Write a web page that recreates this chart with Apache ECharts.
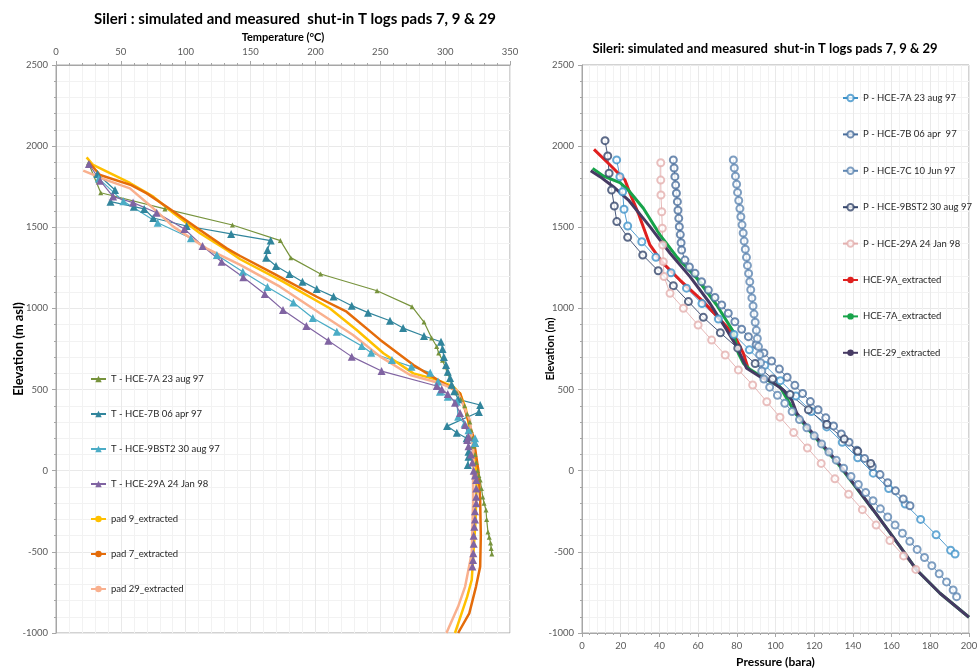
<!DOCTYPE html>
<html>
<head>
<meta charset="utf-8">
<script src="https://cdn.jsdelivr.net/npm/echarts@6/dist/echarts.min.js"></script>
<style>
html, body { margin: 0; padding: 0; background: #fff; }
#chart { width: 977px; height: 671px; }
</style>
</head>
<body>
<div id="chart"></div>
<script>
// temperature logs, [T degC, elevation m asl]
var tHce7A = [[25,1896],[34.5,1713],[84,1613],[136,1514],[173,1418],[181,1313],[204,1212],[247.5,1109],[274.5,1011],[283.7,916],[289.6,818],[293.5,765],[295,725],[298,680],[300,640],[302,600],[304,560],[306,520],[309,480],[312,440],[315,400],[317,350],[319,300],[320,250],[321,200],[322,150],[323,100],[324,50],[325,0],[326,-30],[327,-57],[328,-110],[329,-162],[330,-200],[331.5,-242],[332,-300],[333,-378],[334,-410],[335,-445],[335.5,-480],[336,-513]];
var tHce7B = [[32,1828],[45.5,1730],[42,1658],[60,1627],[68,1613],[75,1557],[100.7,1508],[135,1459],[165.5,1418],[163,1360],[162,1313],[169.6,1261],[180,1212],[190,1165],[201,1120],[214,1073],[228,1017],[240.6,974],[257.5,924],[267.6,879],[283.7,830],[296.8,795],[298,750],[299,700],[300.7,651],[302,610],[303.8,571],[305,530],[307,490],[310,440],[327,405],[326,362],[301.5,275],[309,234],[316.6,200],[323,171],[318,117],[318,86],[317.5,35]];
var tHce9BST2 = [[33,1800],[52,1660],[78.4,1528],[104,1432],[124,1329],[144,1226],[163,1132],[183,1036],[198,941],[216.5,857],[235.7,768],[243,727],[259,682],[274,641],[288.5,604],[294.5,549],[296,487],[302,456],[309,425],[310,333],[315,290],[318,250],[323,200],[323,171]];
var tHce29A = [[25.4,1890],[34,1787],[44,1689],[59.4,1652],[77.6,1590],[99,1490],[113,1385],[127.7,1288],[144.4,1192],[161,1089],[175,991],[193,892],[210,801],[228,703],[251,614],[293.5,522],[297.4,502],[302,473],[307.6,419],[311.5,356],[315.4,282],[318,210],[317,189],[318,150],[320,100],[321,50],[322,0],[323,-30],[324,-57],[324,-110],[324,-160],[324,-200],[323,-250],[323,-300],[322.5,-345],[322,-400],[322,-450],[321.7,-509],[321.5,-550],[321,-590]];
var pad9 = [[23.6,1931],[28.6,1884],[57,1773],[75,1689],[90.4,1588],[111,1463],[131.6,1360],[142,1303],[175,1165],[211,1001],[231.8,867],[252.4,724],[275.5,600],[292,565],[306.3,518],[311.5,477],[316,380],[319,251],[323,128],[324.3,-78],[323.5,-300],[320.5,-673],[317,-776],[307.6,-1000]];
var pad7 = [[25.5,1898],[34,1822],[58,1760],[70,1709],[85.3,1627],[111,1483],[131.6,1370],[142,1323],[167.5,1216],[201,1072],[224,980],[250,806],[275.6,651],[298.6,539],[311.5,477],[321.7,210],[325.6,4],[327,-176],[327.5,-400],[327,-591],[323.8,-714],[318.6,-879],[310,-1000]];
var pad29 = [[21,1849],[39,1791],[57,1740],[75,1617],[90.4,1504],[116,1370],[142,1268],[172.7,1134],[203.5,970],[229,836],[250,703],[273,590],[296,539],[309,497],[319,313],[321.7,128],[321.7,-176],[320.5,-509],[315.4,-714],[310,-837],[301,-1000]];

// pressure logs, [P bara, elevation m]
var pHce7A = [[17.9,1915],[19.6,1812],[21,1719],[21.7,1611],[23.6,1508],[30.9,1411],[38.2,1315],[46,1220],[54,1125],[62,1030],[70.5,935],[78.5,840],[86.5,745],[94.5,650],[102.5,555],[110.5,460],[118.5,365],[126.5,270],[134.5,175],[142.5,80],[150.5,-15],[158.5,-110],[167,-205],[175,-300],[183,-395],[190.5,-490],[192.8,-513]];
var pHce7B = [[47.2,1915],[47.6,1865],[48,1812],[48.4,1760],[48.8,1710],[49.3,1658],[49.6,1605],[50,1555],[50.3,1504],[50.8,1455],[51.2,1405],[51.5,1360],[53.2,1298],[55.5,1255],[58.4,1216],[61.8,1165],[65.3,1113],[68.7,1067],[72.2,1021],[75.6,970],[79,918],[82.5,872],[86,826],[90,776],[94,726],[98,676],[102,626],[106,576],[110,526],[114,476],[118,426],[122,376],[126,326],[130,276],[134,226],[138,176],[142,126],[146,76],[150,26],[154,-24],[158,-74],[162,-124],[166,-174],[169.5,-216]];
var pHce7C = [[78.2,1915],[78.7,1865],[79.3,1815],[79.9,1765],[80.4,1715],[81,1665],[81.6,1615],[82.1,1565],[82.7,1515],[83.3,1465],[83.8,1415],[84.4,1365],[85,1315],[85.5,1265],[86.1,1215],[86.7,1165],[87.2,1115],[87.8,1065],[88.4,1015],[88.9,965],[89.5,915],[90.1,865],[90.6,815],[91.2,765],[91.8,715],[92.3,665],[92.9,615],[94,565],[97,515],[101,465],[104.8,415],[108.6,365],[112.4,315],[116.2,265],[120,215],[123.8,165],[127.6,115],[131.4,65],[135.2,15],[139,-35],[142.8,-85],[146.6,-135],[150.4,-185],[154.2,-235],[158,-285],[161.8,-335],[165.6,-385],[169.4,-435],[173.2,-485],[177,-535],[180.8,-585],[184.6,-635],[188.4,-685],[191.8,-735],[193.6,-776]];
var pHce9BST2 = [[11.9,2034],[13.3,1939],[14,1833],[15.3,1730],[16.7,1631],[18,1535],[23.6,1438],[31.4,1329],[39.4,1232],[47.2,1140],[55,1042],[62.7,945],[71.5,850],[80.5,755],[89.5,660],[98.5,565],[107.5,470],[117,375],[126.5,285],[135.5,195],[142.5,120],[149.2,45]];
var pHce29A = [[40.7,1898],[40.7,1791],[40.8,1699],[41.2,1596],[41.5,1494],[41.7,1391],[42,1288],[42.4,1196],[45.5,1093],[52.4,1001],[60,898],[67,805],[74,713],[80.8,621],[88.2,528],[95.5,425],[102.3,330],[109.4,235],[116.5,140],[123.6,45],[130.7,-50],[137.8,-145],[144.9,-240],[152,-335],[159.1,-430],[166.2,-525],[172.5,-608]];
var hce9A = [[6.2,1980],[14.5,1884],[22.2,1791],[24.8,1709],[29.1,1586],[35.1,1391],[41.2,1288],[50.6,1175],[62.7,1042],[74.8,887],[80,805],[83.4,723],[86,625]];
var hce7A = [[5.5,1863],[11,1816],[19.6,1775],[23.9,1730],[31.7,1617],[40.3,1453],[48.9,1319],[59.3,1186],[69.6,1021],[78.2,857],[80.8,723],[83.4,662],[86.8,625],[95.5,559],[102.3,518],[105.3,456],[110.3,354],[117.2,251],[132.8,35],[150.5,-242],[164.4,-468],[173,-612],[185,-755],[200,-903]];
var hce29 = [[4.5,1849],[9.3,1812],[16.2,1750],[24,1668],[35.1,1504],[45.5,1340],[55.8,1196],[66.1,1032],[74.8,867],[80,764],[85.1,631],[92,579],[98,549],[104,497],[108.4,436],[111,354],[117.8,251],[133.3,35],[150.5,-242],[164.4,-468],[173,-612],[185,-755],[200,-903]];

var chart = echarts.init(document.getElementById('chart'));

var font = 'Lato';
function axisBase() {
    return {
        type: 'value',
        nameMoveOverlap: false,
        axisLine: { show: true, onZero: false, lineStyle: { color: '#a6a6a6' } },
        axisTick: { show: true, length: 4, lineStyle: { color: '#a6a6a6' } },
        minorTick: { show: true, splitNumber: 5, length: 2, lineStyle: { color: '#a6a6a6' } },
        axisLabel: { fontSize: 9.5, color: '#595959', fontFamily: font, formatter: function (v) { return String(v); } },
        splitLine: { show: true, lineStyle: { color: '#e9e9e9' } },
        minorSplitLine: { show: true, lineStyle: { color: '#f2f2f2' } },
        nameTextStyle: { fontWeight: 'bold', color: '#000', fontFamily: font }
    };
}

var xT = axisBase();
xT.gridIndex = 0; xT.position = 'top'; xT.min = 0; xT.max = 350; xT.interval = 50;
xT.name = 'Temperature (°C)'; xT.nameLocation = 'middle'; xT.nameGap = 22;
xT.nameTextStyle.fontSize = 11;

var yT = axisBase();
yT.gridIndex = 0; yT.min = -1000; yT.max = 2500; yT.interval = 500;
yT.name = 'Elevation (m asl)'; yT.nameLocation = 'middle'; yT.nameGap = 31;
yT.nameTextStyle.fontSize = 13;

var xP = axisBase();
xP.gridIndex = 1; xP.position = 'bottom'; xP.min = 0; xP.max = 200; xP.interval = 20;
xP.name = 'Pressure (bara)'; xP.nameLocation = 'middle'; xP.nameGap = 23;
xP.nameTextStyle.fontSize = 12;

var yP = axisBase();
yP.gridIndex = 1; yP.min = -1000; yP.max = 2500; yP.interval = 500;
yP.name = 'Elevation (m)'; yP.nameLocation = 'middle'; yP.nameGap = 26;
yP.nameTextStyle.fontSize = 11;

function tri(name, data, color, size) {
    return {
        name: name, type: 'line', xAxisIndex: 0, yAxisIndex: 0, data: data,
        symbol: 'triangle', symbolSize: size, color: color,
        lineStyle: { width: 1.2, color: color }, itemStyle: { color: color }
    };
}
function circ(name, data, color) {
    return {
        name: name, type: 'line', xAxisIndex: 1, yAxisIndex: 1, data: data,
        symbol: 'emptyCircle', symbolSize: 7, color: color,
        lineStyle: { width: 0.9, color: color }, itemStyle: { color: color, borderWidth: 0.6, opacity: 0.8 }
    };
}
function solid(name, data, color, width, axis) {
    return {
        name: name, type: 'line', xAxisIndex: axis, yAxisIndex: axis, data: data,
        symbol: 'none', color: color, lineStyle: { width: width, color: color }
    };
}

var option = {
    animation: false,
    backgroundColor: '#fff',
    textStyle: { fontFamily: font },
    title: [
        { text: 'Sileri : simulated and measured  shut-in T logs pads 7, 9 & 29', left: 290, top: 7, textAlign: 'center',
          textStyle: { fontSize: 15, fontWeight: 'bold', color: '#000', fontFamily: font } },
        { text: 'Sileri: simulated and measured  shut-in T logs pads 7, 9 & 29', left: 760, top: 37, textAlign: 'center',
          textStyle: { fontSize: 13, fontWeight: 'bold', color: '#000', fontFamily: font } }
    ],
    legend: [
        { orient: 'vertical', left: 85, top: 368, itemWidth: 15, itemHeight: 8, itemGap: 23,
          textStyle: { fontSize: 9.5, color: '#262626', lineHeight: 12, fontFamily: font },
          data: ['T - HCE-7A 23 aug 97', 'T - HCE-7B 06 apr 97', 'T - HCE-9BST2 30 aug 97', 'T - HCE-29A 24 Jan 98',
                 'pad 9_extracted', 'pad 7_extracted', 'pad 29_extracted'] },
        { orient: 'vertical', left: 837, top: 87, itemWidth: 15, itemHeight: 8, itemGap: 24.4,
          textStyle: { fontSize: 9.5, color: '#262626', lineHeight: 12, fontFamily: font },
          data: ['P - HCE-7A 23 aug 97', 'P - HCE-7B 06 apr  97', 'P - HCE-7C 10 Jun 97', 'P - HCE-9BST2 30 aug 97',
                 'P - HCE-29A 24 Jan 98', 'HCE-9A_extracted', 'HCE-7A_extracted', 'HCE-29_extracted'] }
    ],
    grid: [
        { left: 56, top: 65, width: 454, height: 568, outerBoundsMode: 'none', show: true, borderColor: '#a6a6a6', borderWidth: 1, backgroundColor: '#fff' },
        { left: 582, top: 65, width: 387, height: 568, outerBoundsMode: 'none', show: true, borderColor: '#a6a6a6', borderWidth: 1, backgroundColor: '#fff' }
    ],
    xAxis: [xT, xP],
    yAxis: [yT, yP],
    series: [
        tri('T - HCE-7A 23 aug 97', tHce7A, '#77933C', 5),
        tri('T - HCE-7B 06 apr 97', tHce7B, '#31859C', 8),
        tri('T - HCE-9BST2 30 aug 97', tHce9BST2, '#4BACC6', 8),
        tri('T - HCE-29A 24 Jan 98', tHce29A, '#8064A2', 8),
        solid('pad 9_extracted', pad9, '#FFC000', 2.5, 0),
        solid('pad 7_extracted', pad7, '#E46C0A', 2.5, 0),
        solid('pad 29_extracted', pad29, '#F9B08E', 2.5, 0),
        circ('P - HCE-7A 23 aug 97', pHce7A, '#3E92C9'),
        circ('P - HCE-7B 06 apr  97', pHce7B, '#4A6E9C'),
        circ('P - HCE-7C 10 Jun 97', pHce7C, '#5E86B2'),
        circ('P - HCE-9BST2 30 aug 97', pHce9BST2, '#34466C'),
        circ('P - HCE-29A 24 Jan 98', pHce29A, '#E3AFAE'),
        solid('HCE-9A_extracted', hce9A, '#E0201F', 3, 1),
        solid('HCE-7A_extracted', hce7A, '#17A34A', 3, 1),
        solid('HCE-29_extracted', hce29, '#463A63', 3, 1)
    ]
};

chart.setOption(option);
</script>
</body>
</html>
